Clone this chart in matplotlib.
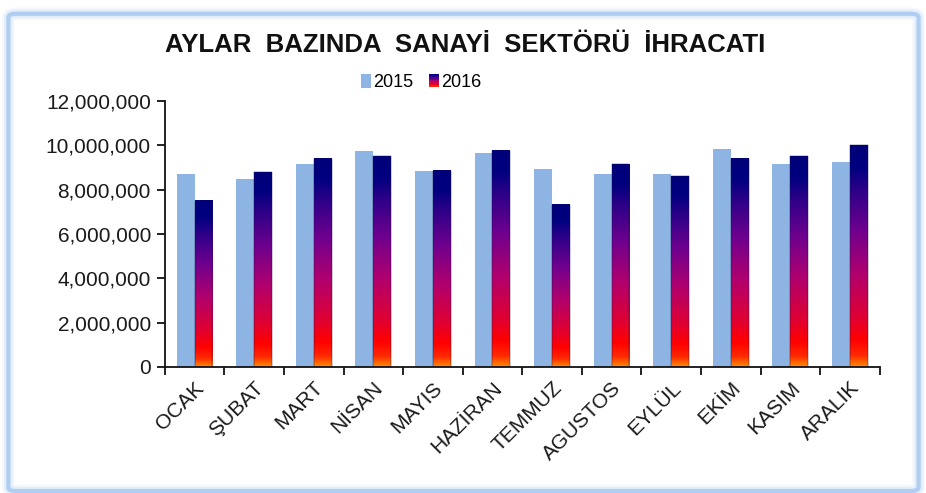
import numpy as np
import matplotlib
matplotlib.use('Agg')
import matplotlib.pyplot as plt
from matplotlib.colors import LinearSegmentedColormap
from matplotlib.patches import FancyBboxPatch, Rectangle, Patch
from matplotlib.ticker import FuncFormatter, FixedLocator
from matplotlib.legend_handler import HandlerBase

months = ['OCAK', 'ŞUBAT', 'MART', 'NİSAN', 'MAYIS', 'HAZİRAN', 'TEMMUZ',
          'AGUSTOS', 'EYLÜL', 'EKİM', 'KASIM', 'ARALIK']
v2015 = [8.69e6, 8.50e6, 9.14e6, 9.76e6, 8.86e6, 9.67e6, 8.95e6,
         8.69e6, 8.69e6, 9.85e6, 9.14e6, 9.23e6]
v2016 = [7.50e6, 8.78e6, 9.40e6, 9.50e6, 8.86e6, 9.76e6, 7.32e6,
         9.14e6, 8.60e6, 9.40e6, 9.50e6, 10.01e6]
yticks = [0, 2e6, 4e6, 6e6, 8e6, 10e6, 12e6]
title = 'AYLAR  BAZINDA  SANAYİ  SEKTÖRÜ  İHRACATI'

c2015 = '#8db4e2'
grad = LinearSegmentedColormap.from_list('g16', [
    (0.00, '#ff8c00'), (0.05, '#ff2a00'), (0.12, '#ff0000'), (0.22, '#e00030'),
    (0.42, '#b0006e'), (0.62, '#6e008e'), (0.80, '#2c0088'), (0.90, '#000080'),
    (1.00, '#00007a')])

plt.rcParams['font.family'] = ['Liberation Sans', 'DejaVu Sans']
fig = plt.figure(figsize=(9.26, 4.93), dpi=100)

# outer frame
for lw, a in [(9, 0.10), (6, 0.2), (3, 0.7)]:
    fig.patches.append(FancyBboxPatch((0.009, 0.004), 0.983, 0.968,
                                      boxstyle='round,pad=0,rounding_size=0.008',
                                      transform=fig.transFigure, fill=False,
                                      edgecolor='#9cc2ee', linewidth=lw, alpha=a))

ax = fig.add_axes([0.178, 0.2556, 0.772, 0.5396])
x = np.arange(len(months))
w = 0.30
b1 = ax.bar(x - w / 2, v2015, w, color=c2015, zorder=2)
b2 = ax.bar(x + w / 2, v2016, w, color='none', edgecolor='#10104a', linewidth=0.3, zorder=3)
gimg = np.linspace(0, 1, 256).reshape(-1, 1)
for r in b2:
    ax.imshow(gimg, cmap=grad, origin='lower', aspect='auto', zorder=2.5,
              extent=[r.get_x(), r.get_x() + r.get_width(), 0, r.get_height()])

ax.set_xlim(-0.5, len(months) - 0.5)
ax.set_ylim(0, 12e6)
ax.yaxis.set_major_locator(FixedLocator(yticks))
ax.yaxis.set_major_formatter(FuncFormatter(lambda v, p: f'{int(v):,}'))
ax.set_xticks(np.arange(len(months) + 1) - 0.5)
ax.set_xticklabels([])
ax.set_xticks(x, minor=True)
ax.set_xticklabels(months, minor=True, rotation=45, ha='right', va='top',
                   rotation_mode='anchor', fontsize=15, color='#1a1a1a')
ax.tick_params(axis='x', which='minor', length=0, pad=8)
ax.tick_params(axis='x', which='major', length=6, width=1.3, direction='out', color='#111111')
ax.tick_params(axis='y', length=6, width=1.3, direction='out', labelsize=15,
               labelcolor='#1a1a1a', color='#111111', pad=4)
for s in ['top', 'right']:
    ax.spines[s].set_visible(False)
for s in ['left', 'bottom']:
    ax.spines[s].set_linewidth(1.3)
    ax.spines[s].set_color('#111111')

fig.text(0.502, 0.909, title, ha='center', va='center', fontsize=18.5,
         fontweight='bold', color='#111111')


class GradHandler(HandlerBase):
    def create_artists(self, legend, orig_handle, xd, yd, width, height, fontsize, trans):
        arts = []
        n = 8
        for i in range(n):
            arts.append(Rectangle((xd, yd + height * i / n), width, height / n + 0.1,
                                  facecolor=grad((i + 0.5) / n), edgecolor='none',
                                  transform=trans))
        return arts


h1 = Patch(facecolor=c2015)
h2 = Patch(facecolor='navy')
fig.legend([h1, h2], ['2015', '2016'], loc='center', bbox_to_anchor=(0.455, 0.832),
           ncol=2, frameon=False, fontsize=13, handlelength=0.55, handleheight=0.75,
           handletextpad=0.1, columnspacing=0.9, handler_map={h2: GradHandler()})

fig.savefig('out.png', dpi=100)
